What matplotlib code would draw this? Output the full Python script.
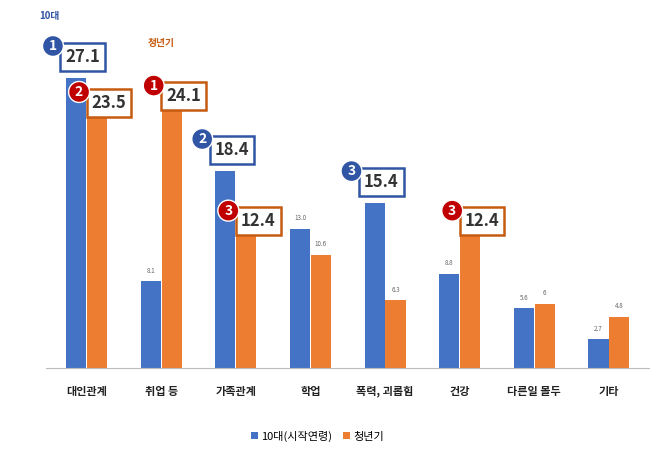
import numpy as np
import matplotlib.pyplot as plt

plt.rcParams['font.family'] = ['Noto Sans CJK KR', 'DejaVu Sans']

categories = ['대인관계', '취업 등', '가족관계', '학업', '폭력, 괴롭힘', '건강', '다른일 몰두', '기타']
teen = [27.1, 8.1, 18.4, 13.0, 15.4, 8.8, 5.6, 2.7]
youth = [23.5, 24.1, 12.4, 10.6, 6.3, 12.4, 6.0, 4.8]
teen_labels = ['27.1', '8.1', '18.4', '13.0', '15.4', '8.8', '5.6', '2.7']
youth_labels = ['23.5', '24.1', '12.4', '10.6', '6.3', '12.4', '6', '4.8']
teen_rank = {0: 1, 2: 2, 4: 3}
youth_rank = {1: 1, 0: 2, 2: 3, 5: 3}

BLUE = '#4472C4'
ORANGE = '#ED7D31'
DARKBLUE = '#2F55A4'
RED = '#C00000'

fig = plt.figure(figsize=(6.5, 4.68), dpi=100)
ax = fig.add_axes([0.07, 0.214, 0.93, 0.754])

x = np.arange(len(categories))
w = 0.27
ax.bar(x - 0.14, teen, w, color=BLUE, label='10대(시작연령)')
ax.bar(x + 0.14, youth, w, color=ORANGE, label='청년기')

for i in range(len(categories)):
    if i not in teen_rank:
        ax.text(x[i] - 0.14, teen[i] + 0.6, teen_labels[i], ha='center', va='bottom',
                fontsize=4.5, color='#666666')
    if i not in youth_rank:
        ax.text(x[i] + 0.14, youth[i] + 0.6, youth_labels[i], ha='center', va='bottom',
                fontsize=4.5, color='#666666')


def ranked(xc, y, label, rank, edge, circ):
    ax.text(xc, y, label, ha='center', va='center', fontsize=12, fontweight='bold',
            color='#333333', zorder=5,
            bbox=dict(boxstyle='square,pad=0.3', fc='white', ec=edge, lw=1.8))
    ax.text(xc - 0.4, y + 1.0, str(rank), ha='center', va='center', fontsize=10,
            fontweight='bold', color='white', zorder=6,
            bbox=dict(boxstyle='circle,pad=0.25', fc=circ, ec='white', lw=1))


for i, r in teen_rank.items():
    ranked(x[i] - 0.05, teen[i] + 2.0, teen_labels[i], r, DARKBLUE, DARKBLUE)
for i, r in youth_rank.items():
    ranked(x[i] + 0.3, youth[i] + 1.3, youth_labels[i], r, '#C55A11', RED)

ax.text(x[0] - 0.5, teen[0] + 5.5, '10대', fontsize=7, fontweight='bold', color=DARKBLUE,
        ha='center')
ax.text(x[1] + 0.0, youth[1] + 6.0, '청년기', fontsize=7, fontweight='bold', color='#C55A11',
        ha='center')

ax.set_xlim(-0.55, len(categories) - 0.45)
ax.set_ylim(0, 33)
ax.set_xticks(x)
ax.set_xticklabels(categories, fontsize=8, fontweight='bold', color='#222222')
ax.tick_params(axis='x', length=0, pad=12)
ax.set_yticks([])
for s in ['top', 'right', 'left']:
    ax.spines[s].set_visible(False)
ax.spines['bottom'].set_color('#BBBBBB')

ax.legend(loc='upper center', bbox_to_anchor=(0.45, -0.15), ncol=2, frameon=False,
          fontsize=8, handlelength=0.6, handleheight=0.6, columnspacing=1.0, handletextpad=0.3)

fig.savefig('out.png', dpi=100)
